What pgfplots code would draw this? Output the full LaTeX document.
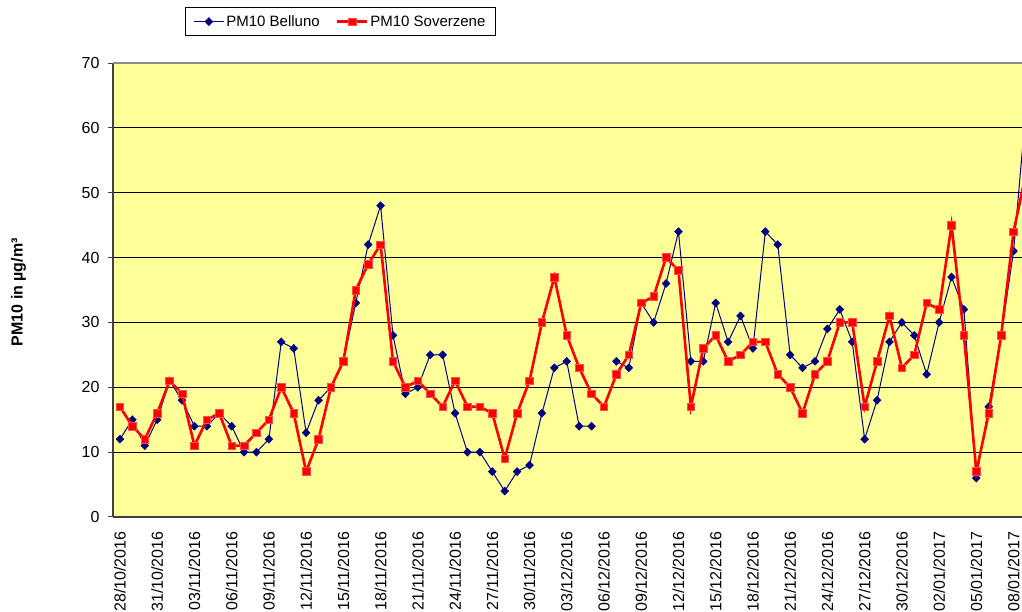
\documentclass[border=0pt]{standalone}
\usepackage{fontspec}
\setmainfont{Liberation Sans}
\usepackage{pgfplots}
\pgfplotsset{compat=1.18}
\usepackage{pgfplotstable}
\usetikzlibrary{calc}
\definecolor{plotbg}{HTML}{FFFF99}
\definecolor{navyb}{HTML}{000080}
\definecolor{redl}{HTML}{FF0000}

\pgfplotstableread{
idx belluno soverzene
0 12 17
1 15 14
2 11 12
3 15 16
4 21 21
5 18 19
6 14 11
7 14 15
8 16 16
9 14 11
10 10 11
11 10 13
12 12 15
13 27 20
14 26 16
15 13 7
16 18 12
17 20 20
18 24 24
19 33 35
20 42 39
21 48 42
22 28 24
23 19 20
24 20 21
25 25 19
26 25 17
27 16 21
28 10 17
29 10 17
30 7 16
31 4 9
32 7 16
33 8 21
34 16 30
35 23 37
36 24 28
37 14 23
38 14 19
39 nan 17
40 24 22
41 23 25
42 33 33
43 30 34
44 36 40
45 44 38
46 24 17
47 24 26
48 33 28
49 27 24
50 31 25
51 26 27
52 44 27
53 42 22
54 25 20
55 23 16
56 24 22
57 29 24
58 32 30
59 27 30
60 12 17
61 18 24
62 27 31
63 30 23
64 28 25
65 22 33
66 30 32
67 37 45
68 32 28
69 6 7
70 17 16
71 28 28
72 41 44
73 63 53
}\data

\begin{document}
\begin{tikzpicture}
\begin{axis}[
  scale only axis,
  width=909pt, height=454pt,
  xmin=-0.56, xmax=72.68,
  ymin=0, ymax=70,
  ytick={0,10,...,70},
  xtick={0,3,...,72},
  xticklabels={28/10/2016,31/10/2016,03/11/2016,06/11/2016,09/11/2016,12/11/2016,15/11/2016,18/11/2016,21/11/2016,24/11/2016,27/11/2016,30/11/2016,03/12/2016,06/12/2016,09/12/2016,12/12/2016,15/12/2016,18/12/2016,21/12/2016,24/12/2016,27/12/2016,30/12/2016,02/01/2017,05/01/2017,08/01/2017},
  x tick label style={yshift=-6pt, rotate=90, anchor=east, font=\fontsize{16}{16}\selectfont},
  y tick label style={xshift=-5pt, font=\fontsize{16}{16}\selectfont},
  /pgf/number format/assume math mode=true,
  axis background/.style={fill=plotbg},
  ymajorgrids,
  grid style={black, line width=0.9pt},
  axis x line*=bottom, axis y line*=left,
  axis line style={draw=black!75, line width=1.6pt},
  xtick style={draw=none},
  ytick style={draw=black!75, line width=1pt},
  tick align=outside,
  major tick length=5pt,
  clip marker paths=true,
  unbounded coords=jump,
  ylabel={\textbf{PM10 in µg/m³}},
  ylabel style={at={(axis description cs:-0.104,0.495)}, anchor=center, font=\fontsize{16}{16}\selectfont},
  legend columns=2,
  legend style={at={(axis description cs:0.0792,1.1233)}, anchor=north west,
    draw=black, line width=0.8pt, font=\fontsize{15}{15}\selectfont, fill=white,
    inner xsep=8pt, inner ysep=6pt,
    nodes={inner xsep=2pt},
    /tikz/every even column/.append style={column sep=14pt}},
  legend image code/.code={\draw[mark repeat=2,mark phase=2] plot coordinates {(0pt,0pt) (15pt,0pt) (30pt,0pt)};},
]
\addplot[navyb, line width=1pt, mark=diamond*, mark size=4pt, mark options={solid, fill=navyb, draw=navyb, line width=0.5pt, xscale=1.3}] table[x=idx, y=belluno] {\data};
\addlegendentry{PM10 Belluno}
\addplot[redl, line width=2.6pt, mark=square*, mark size=3.8pt, mark options={solid, fill=redl, draw=red!70!white, line width=0.6pt}] table[x=idx, y=soverzene] {\data};
\addlegendentry{PM10 Soverzene}
\coordinate (ll) at (rel axis cs:0,0);
\coordinate (ur) at (rel axis cs:1,1);
\end{axis}
\draw[black!45, line width=1.2pt] (ll |- ur) -- (ur);
\pgfresetboundingbox
\path[use as bounding box] ($(ll)+(-113pt,-95pt)$) rectangle ($(ur)+(0pt,63pt)$);
\end{tikzpicture}
\end{document}
